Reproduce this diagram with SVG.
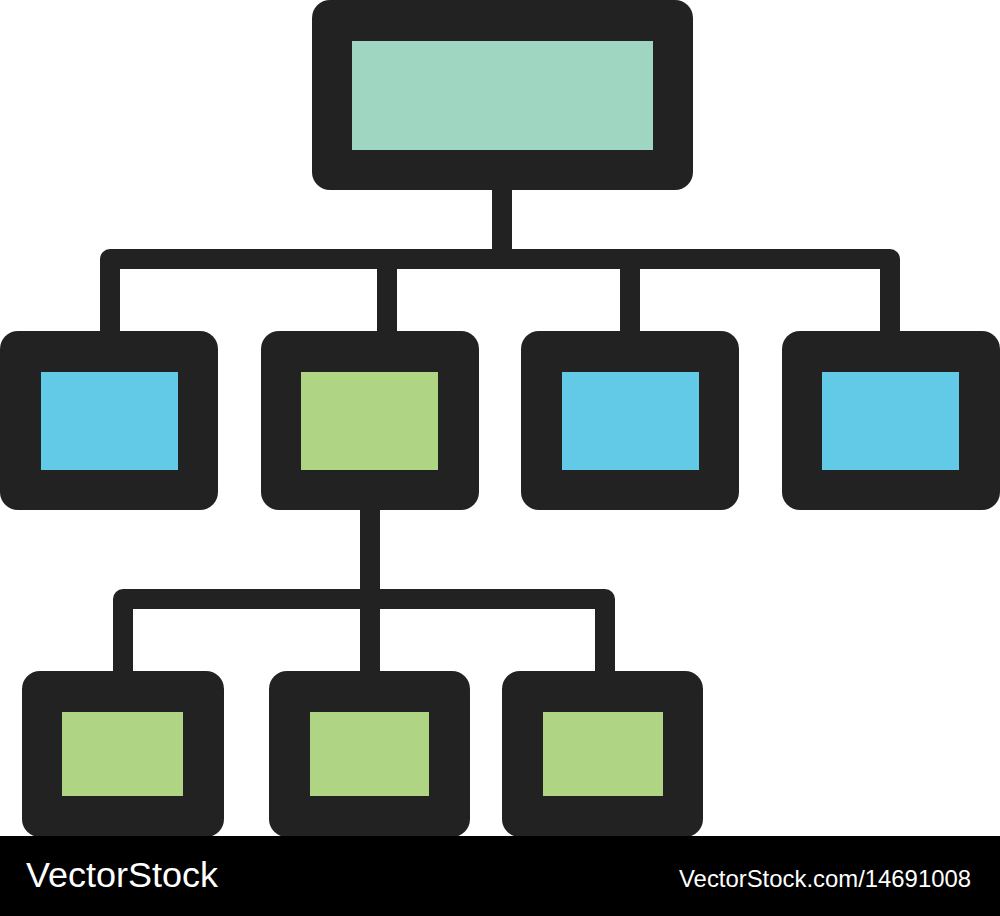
<svg xmlns="http://www.w3.org/2000/svg" width="1000" height="916" viewBox="0 0 1000 916">
<style>
.frame{fill:#222222}
.teal{fill:#9FD6C2}
.blue{fill:#62CAE6}
.green{fill:#AFD584}
.wire{fill:none;stroke:#222222;stroke-width:20;stroke-linejoin:round;stroke-linecap:butt}
.wm{fill:#ffffff;font-family:"Liberation Sans",Arial,sans-serif}
</style>
<rect width="1000" height="916" fill="#ffffff"/>
<g id="connectors">
<path class="wire" d="M502,185 V259"/>
<path class="wire" d="M110,336 V259 H890 V336"/>
<path class="wire" d="M387,259 V336"/>
<path class="wire" d="M630,259 V336"/>
<path class="wire" d="M370,505 V675"/>
<path class="wire" d="M123,675 V599 H605 V675"/>
</g>
<g id="root">
<rect class="frame" x="312" y="0" width="381" height="190" rx="18"/>
<rect class="teal" x="352" y="41" width="301" height="109"/>
</g>
<g id="n1">
<rect class="frame" x="0" y="331" width="218" height="179" rx="18"/>
<rect class="blue" x="41" y="372" width="137" height="98"/>
</g>
<g id="n2">
<rect class="frame" x="261" y="331" width="218" height="179" rx="18"/>
<rect class="green" x="301" y="372" width="137" height="98"/>
</g>
<g id="n3">
<rect class="frame" x="521" y="331" width="218" height="179" rx="18"/>
<rect class="blue" x="562" y="372" width="137" height="98"/>
</g>
<g id="n4">
<rect class="frame" x="782" y="331" width="218" height="179" rx="18"/>
<rect class="blue" x="822" y="372" width="137" height="98"/>
</g>
<g id="c1">
<rect class="frame" x="22" y="671" width="202" height="166" rx="18"/>
<rect class="green" x="62" y="712" width="121" height="84"/>
</g>
<g id="c2">
<rect class="frame" x="269" y="671" width="201" height="166" rx="18"/>
<rect class="green" x="310" y="712" width="119" height="84"/>
</g>
<g id="c3">
<rect class="frame" x="502" y="671" width="201" height="166" rx="18"/>
<rect class="green" x="543" y="712" width="120" height="84"/>
</g>
<g id="footer">
<rect x="0" y="836" width="1000" height="80" fill="#000000"/>
<text class="wm" x="26" y="887" font-size="35" textLength="192" lengthAdjust="spacingAndGlyphs">VectorStock</text>
<text class="wm" x="679" y="887" font-size="24" textLength="292" lengthAdjust="spacingAndGlyphs">VectorStock.com/14691008</text>
</g>
</svg>
